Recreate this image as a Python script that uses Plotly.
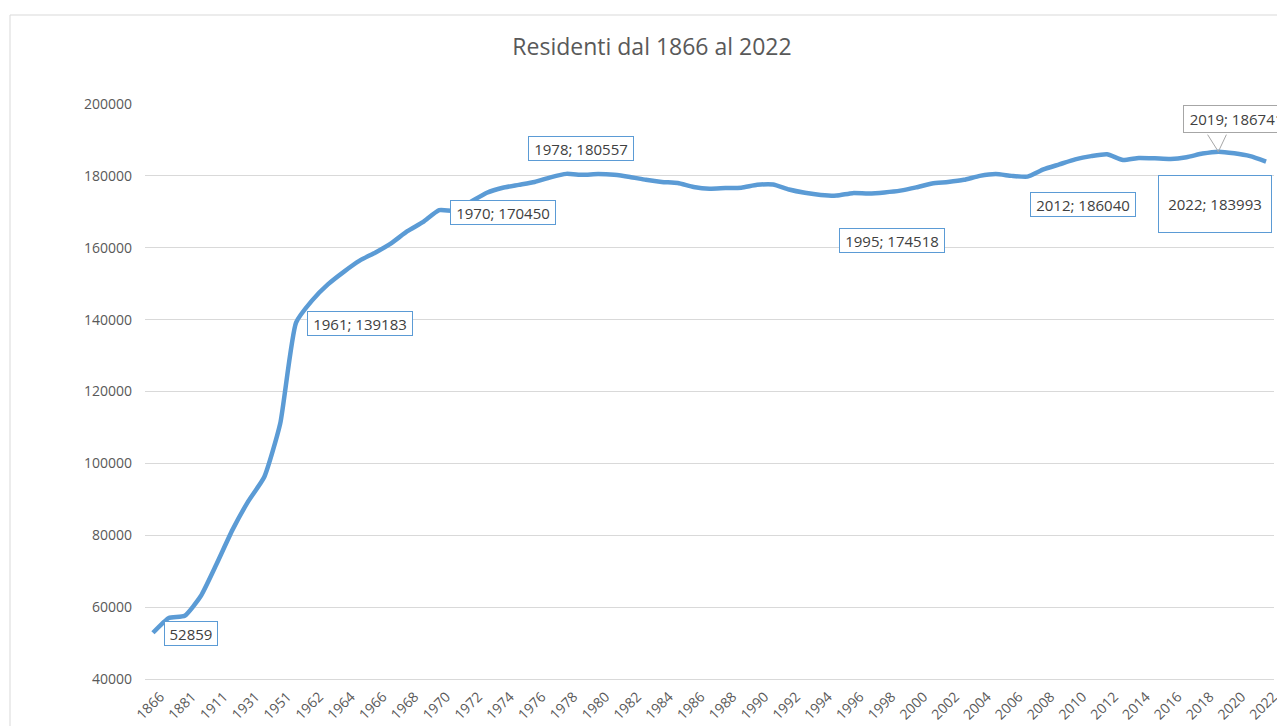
import plotly.graph_objects as go

years = [1866, 1871, 1881, 1901, 1911, 1921, 1931, 1936, 1951, 1961,
         1962, 1963, 1964, 1965, 1966, 1967, 1968, 1969, 1970, 1971,
         1972, 1973, 1974, 1975, 1976, 1977, 1978, 1979, 1980, 1981,
         1982, 1983, 1984, 1985, 1986, 1987, 1988, 1989, 1990, 1991,
         1992, 1993, 1994, 1995, 1996, 1997, 1998, 1999, 2000, 2001,
         2002, 2003, 2004, 2005, 2006, 2007, 2008, 2009, 2010, 2011,
         2012, 2013, 2014, 2015, 2016, 2017, 2018, 2019, 2020, 2021,
         2022]

residents = [52859, 57000, 57600, 63000, 72000, 81500, 89500, 96200, 111000, 139183,
             145300, 149800, 153300, 156400, 158700, 161300, 164600, 167200, 170450, 170300,
             172800, 175300, 176700, 177500, 178300, 179600, 180557, 180300, 180500, 180300,
             179700, 178900, 178300, 178000, 176900, 176400, 176600, 176700, 177500, 177600,
             176200, 175300, 174700, 174518, 175200, 175100, 175400, 175900, 176800, 177900,
             178300, 178900, 180000, 180500, 180000, 179800, 181800, 183200, 184600, 185500,
             186040, 184400, 185000, 184900, 184700, 185200, 186200, 186741, 186300, 185500,
             183993]

# labelled points: (year, show year in label, xshift, yshift, box width, box height)
labels = [
    (1866, False, 38, -1, 48, 19),
    (1961, True, 64, -1, 100, 19),
    (1970, True, 64, -2, 100, 19),
    (1978, True, 15, 25, 100, 19),
    (1995, True, 55, -45, 100, 19),
    (2012, True, -24, -50, 100, 19),
    (2022, True, -51, -42, 108, 52),
]
callout_year = 2019

pos = list(range(len(years)))  # category positions
FONT = "Open Sans"
BLUE = "#5B9BD5"
GREY_TXT = "#595959"

fig = go.Figure()
fig.add_trace(go.Scatter(
    x=pos, y=residents, mode="lines",
    line=dict(color=BLUE, width=4.5, shape="spline", smoothing=0.5),
    customdata=years, hovertemplate="%{customdata}: %{y}<extra></extra>",
    showlegend=False,
))

annotations = []
for yr, show_year, xs, ys, w, h in labels:
    i = years.index(yr)
    v = residents[i]
    txt = f"{yr}; {v}" if show_year else f"{v}"
    annotations.append(dict(
        x=pos[i], y=v, xref="x", yref="y", text=txt, showarrow=False,
        xshift=xs, yshift=ys, width=w, height=h, align="center", valign="middle",
        bgcolor="white", bordercolor=BLUE, borderwidth=1, borderpad=2,
        font=dict(family=FONT, size=15, color="#404040"),
    ))

ci = years.index(callout_year)
cv = residents[ci]
annotations.append(dict(
    x=pos[ci], y=cv, xref="x", yref="y", text=f"{callout_year}; {cv}",
    showarrow=False, xshift=18, yshift=33, width=101, height=22,
    bgcolor="white", bordercolor="#A6A6A6", borderwidth=1, borderpad=2,
    font=dict(family=FONT, size=15, color="#404040"),
))
for ax in (-12, 9):
    annotations.append(dict(
        x=pos[ci], y=cv, xref="x", yref="y", text=" ", showarrow=True,
        axref="pixel", ayref="pixel", ax=ax, ay=-19,
        arrowhead=0, arrowwidth=1, arrowcolor="#A6A6A6",
        font=dict(size=1),
    ))

LABEL_OFFSET = 0.45  # rotated labels sit slightly right of their category (Excel style)

fig.update_layout(
    width=1285, height=726,
    margin=dict(l=137, r=19, t=96, b=55, autoexpand=False),
    paper_bgcolor="white", plot_bgcolor="white",
    title=dict(text="Residenti dal 1866 al 2022", x=644 / 1285, xanchor="center",
               y=1 - 39 / 726, yanchor="middle", yref="container",
               font=dict(family=FONT, size=23, color=GREY_TXT)),
    font=dict(family=FONT, color=GREY_TXT),
    annotations=annotations,
    shapes=[dict(type="rect", xref="paper", yref="paper",
                 x0=(2 - 137) / 1129, x1=(1300 - 137) / 1129,
                 y0=(671 - 740) / 575, y1=(671 - 7) / 575,
                 line=dict(color="#D9D9D9", width=1), fillcolor="rgba(0,0,0,0)",
                 layer="below")],
)
fig.update_xaxes(
    range=[-0.5, len(pos) - 0.5],
    tickmode="array", tickvals=[p + LABEL_OFFSET for p in pos[::2]],
    ticktext=[str(y) for y in years[::2]],
    tickangle=-45, ticklabelstandoff=3,
    tickfont=dict(family=FONT, size=14, color=GREY_TXT),
    showgrid=False, showline=True, linecolor="#D9D9D9", linewidth=1,
    ticks="", automargin=False, zeroline=False,
)
fig.update_yaxes(
    range=[40000, 200000], dtick=20000, tick0=40000,
    showgrid=True, gridcolor="#D9D9D9", gridwidth=1,
    tickfont=dict(family=FONT, size=14, color=GREY_TXT),
    tickformat="d", ticks="", showline=False, zeroline=False,
    ticklabelstandoff=12, automargin=False,
)

fig.write_html("out.html")
